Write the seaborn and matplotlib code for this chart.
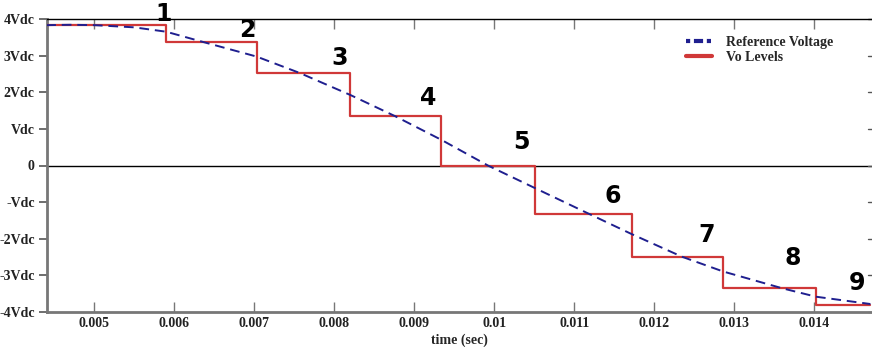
import matplotlib
matplotlib.use("Agg")
import matplotlib.pyplot as plt
import seaborn as sns
import pandas as pd

# ---- data ----
ref_t = [0.0044, 0.0047, 0.0050, 0.0055, 0.0059, 0.00636, 0.00703, 0.00757,
         0.0082, 0.00876, 0.00934, 0.00992, 0.01051, 0.01119, 0.01172,
         0.01235, 0.01286, 0.0136, 0.01402, 0.0147]
ref_v = [3.84, 3.85, 3.84, 3.78, 3.66, 3.38, 2.98, 2.53,
         1.93, 1.35, 0.70, 0.0, -0.62, -1.33, -1.88,
         -2.50, -2.90, -3.36, -3.59, -3.79]

vo_t = [0.0044, 0.0059, 0.00703, 0.0082, 0.00934, 0.01051, 0.01172,
        0.01286, 0.01402, 0.0147]
vo_v = [3.85, 3.38, 2.53, 1.35, 0.0, -1.33, -2.50, -3.36, -3.81, -3.81]

step_labels = ["1", "2", "3", "4", "5", "6", "7", "8", "9"]
step_label_t = [0.005871, 0.006909, 0.008071, 0.009171, 0.010334,
                0.011484, 0.012659, 0.013734, 0.014534]
step_label_v = [4.14, 3.71, 2.94, 1.85, 0.64, -0.83, -1.90, -2.53, -3.21]

xticks = [0.005, 0.006, 0.007, 0.008, 0.009, 0.01, 0.011, 0.012, 0.013, 0.014]
xtick_labels = ["0.005", "0.006", "0.007", "0.008", "0.009", "0.01",
                "0.011", "0.012", "0.013", "0.014"]
yticks = [4, 3, 2, 1, 0, -1, -2, -3, -4]
ytick_labels = ["4Vdc", "3Vdc", "2Vdc", "Vdc", "0", "-Vdc", "-2Vdc", "-3Vdc", "-4Vdc"]

sns.set_style("white")
plt.rcParams['font.family'] = ['Liberation Serif', 'DejaVu Serif']

fig = plt.figure(figsize=(8.72, 3.47), dpi=100)
ax = fig.add_axes([47/872, 35.3/347, 1 - 47/872, 292.4/347])

ref_df = pd.DataFrame({"t": ref_t, "v": ref_v})
vo_df = pd.DataFrame({"t": vo_t, "v": vo_v})

ax.axhline(0, color="black", lw=1.0, zorder=1)
sns.lineplot(data=vo_df, x="t", y="v", ax=ax, color="#d03838", lw=1.6,
             drawstyle="steps-post", label="Vo Levels", zorder=3)
sns.lineplot(data=ref_df, x="t", y="v", ax=ax, color="#1f1f8f", lw=1.4,
             linestyle=(0, (5, 3)), label="Reference Voltage", zorder=4)

for s, tx, ty in zip(step_labels, step_label_t, step_label_v):
    ax.text(tx, ty, s, ha="center", va="center", fontsize=17,
            fontweight="bold", family="DejaVu Sans", color="black",
            clip_on=False, zorder=5)

ax.set_xlim(0.00441, 0.01472)
ax.set_ylim(-4, 4)
ax.set_xticks(xticks)
ax.set_xticklabels(xtick_labels, fontsize=10, fontweight="bold", color="#222222")
ax.set_yticks(yticks)
ax.set_yticklabels(ytick_labels, fontsize=10, fontweight="bold", color="#222222")
ax.set_xlabel("time (sec)", fontsize=10, fontweight="bold", labelpad=2)
ax.set_ylabel("")

ax.tick_params(axis="x", direction="in", length=7, width=1, color="#777777",
               top=True, bottom=True, pad=4)
ax.tick_params(axis="y", direction="out", length=6, width=1.2, color="#555555",
               left=True, right=False, pad=3)
for t in yticks:
    ax.plot([0.01467, 0.01472], [t, t], color="#555555", lw=1, clip_on=False, zorder=2)

ax.spines["left"].set_color("#777777")
ax.spines["left"].set_linewidth(2)
ax.spines["bottom"].set_color("#777777")
ax.spines["bottom"].set_linewidth(2)
ax.spines["top"].set_color("black")
ax.spines["top"].set_linewidth(1)
ax.spines["right"].set_visible(False)

h, l = ax.get_legend_handles_labels()
order = [l.index("Reference Voltage"), l.index("Vo Levels")]
leg = ax.legend([h[i] for i in order], [l[i] for i in order],
                loc="upper left", bbox_to_anchor=(686/872, 1 - 36/347),
                bbox_transform=fig.transFigure, frameon=False,
                prop={"family": "Liberation Serif", "weight": "bold", "size": 10},
                handlelength=1.9, handletextpad=1.0, labelspacing=0.15,
                borderpad=0, borderaxespad=0)
legend_lines = leg.get_lines()
for line in legend_lines:
    line.set_linewidth(3)
legend_lines[0].set_dashes([1.0, 0.9, 2.2, 0.9])

fig.savefig("out.png", dpi=100)
